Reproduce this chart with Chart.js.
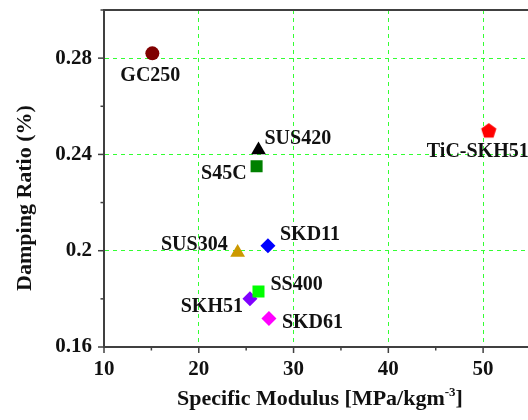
<!DOCTYPE html>
<html>
<head>
<meta charset="utf-8">
<script src="https://cdn.jsdelivr.net/npm/chart.js@4.4.1/dist/chart.umd.min.js"></script>
<style>
  html, body { margin: 0; padding: 0; background: #fff; }
  #clip { width: 528px; height: 420px; overflow: hidden; position: relative; }
  #wrap { width: 539px; height: 420px; position: absolute; left: 0; top: 0; }
</style>
</head>
<body>
<div id="clip"><div id="wrap"><canvas id="dampChart"></canvas></div></div>
<script>
// material data
const materials = ['GC250', 'SUS420', 'S45C', 'TiC-SKH51', 'SUS304', 'SKD11', 'SS400', 'SKH51', 'SKD61'];
const modulus   = [15.1, 26.3, 26.1, 50.6, 24.1, 27.3, 26.3, 25.4, 27.4];
const damping   = [0.282, 0.2418, 0.2351, 0.2501, 0.1993, 0.2021, 0.1831, 0.180, 0.1718];

const xTickLabels = [10, 20, 30, 40, 50];
const yTickLabels = ['0.16', '0.2', '0.24', '0.28'];

// marker look per material
const colors  = ['#800000', '#000000', '#008000', '#ff0000', '#cc9900', '#0000ff', '#00ff00', '#8000ff', '#ff00ff'];
const markers = ['circle', 'triangle', 'rect', 'pentagon', 'triangle', 'rectRot', 'rect', 'rectRot', 'rectRot'];
const radii   = [7, 8.5, 8.5, 8, 8.5, 7.5, 8.5, 7.5, 7.5];
// label placement: [dx, dy, align] relative to the marker
const labelPos = [
    [-2, 22, 'center'], [6, -11, 'left'], [-10, 8, 'right'], [-11, 22, 'center'], [-10, -8, 'right'],
    [12, -11, 'left'], [12, -7, 'left'], [-7, 8, 'right'], [13, 4, 'left']
];

const FONT = '"Liberation Serif", "Times New Roman", serif';
const AXIS = '#404040';

function makePentagon(r, color) {
    const c = document.createElement('canvas');
    c.width = c.height = Math.ceil(r * 2 + 2);
    const g = c.getContext('2d');
    const cx = c.width / 2, cy = c.height / 2 + 1;
    g.beginPath();
    for (let i = 0; i < 5; i++) {
        const a = -Math.PI / 2 + i * 2 * Math.PI / 5;
        const px = cx + r * Math.cos(a), py = cy + r * Math.sin(a);
        if (i === 0) g.moveTo(px, py); else g.lineTo(px, py);
    }
    g.closePath();
    g.fillStyle = color;
    g.fill();
    return c;
}

const datasets = materials.map((name, i) => ({
    label: name,
    data: [{ x: modulus[i], y: damping[i] }],
    pointStyle: markers[i] === 'pentagon' ? makePentagon(radii[i], colors[i]) : markers[i],
    pointRadius: radii[i],
    pointBackgroundColor: colors[i],
    pointBorderColor: colors[i],
    pointBorderWidth: 0,
    showLine: false
}));

const decorPlugin = {
    id: 'decor',
    afterDraw(chart) {
        const ctx = chart.ctx;
        const area = chart.chartArea;
        const xs = chart.scales.x, ys = chart.scales.y;
        ctx.save();
        // top frame
        ctx.strokeStyle = AXIS;
        ctx.lineWidth = 2;
        ctx.beginPath();
        ctx.moveTo(area.left - 1, area.top);
        ctx.lineTo(area.right + 1, area.top);
        ctx.stroke();
        // tick marks, outward
        ctx.lineWidth = 1.5;
        xs.ticks.forEach(t => {
            const px = xs.getPixelForValue(t.value);
            const len = xTickLabels.includes(Math.round(t.value)) ? 6 : 3.5;
            ctx.beginPath();
            ctx.moveTo(px, area.bottom);
            ctx.lineTo(px, area.bottom + len);
            ctx.stroke();
        });
        ys.ticks.forEach(t => {
            const py = ys.getPixelForValue(t.value);
            const len = Math.round(t.value * 100) % 4 === 0 ? 6 : 3.5;
            ctx.beginPath();
            ctx.moveTo(area.left, py);
            ctx.lineTo(area.left - len, py);
            ctx.stroke();
        });
        // axis titles
        ctx.fillStyle = '#111';
        ctx.font = 'bold 22px ' + FONT;
        ctx.textBaseline = 'alphabetic';
        const main = 'Specific Modulus [MPa/kgm';
        const sup = '-3';
        const tail = ']';
        const wMain = ctx.measureText(main).width;
        const wTail = ctx.measureText(tail).width;
        ctx.font = 'bold 13px ' + FONT;
        const wSup = ctx.measureText(sup).width;
        let tx = 320 - (wMain + wSup + wTail) / 2;
        const ty = 405;
        ctx.font = 'bold 22px ' + FONT;
        ctx.textAlign = 'left';
        ctx.fillText(main, tx, ty);
        ctx.font = 'bold 13px ' + FONT;
        ctx.fillText(sup, tx + wMain, ty - 9);
        ctx.font = 'bold 22px ' + FONT;
        ctx.fillText(tail, tx + wMain + wSup, ty);

        ctx.translate(25, 198);
        ctx.rotate(-Math.PI / 2);
        ctx.textAlign = 'center';
        ctx.textBaseline = 'middle';
        ctx.fillText('Damping Ratio (%)', 0, 0);
        ctx.restore();
    },
    afterDatasetsDraw(chart) {
        const ctx = chart.ctx;
        ctx.save();
        ctx.font = 'bold 20px ' + FONT;
        ctx.fillStyle = '#111';
        ctx.textBaseline = 'middle';
        chart.data.datasets.forEach((ds, i) => {
            const pt = chart.getDatasetMeta(i).data[0];
            const [dx, dy, align] = labelPos[i];
            ctx.textAlign = align;
            ctx.fillText(ds.label, pt.x + dx, pt.y + dy);
        });
        ctx.restore();
    }
};

const gridColor = '#33ff33';

new Chart(document.getElementById('dampChart'), {
    type: 'scatter',
    data: { datasets: datasets },
    options: {
        responsive: true,
        maintainAspectRatio: false,
        animation: false,
        layout: { padding: { left: 0, top: 10, right: 2, bottom: 0 } },
        plugins: {
            legend: { display: false },
            tooltip: { enabled: false }
        },
        scales: {
            x: {
                type: 'linear',
                min: 10,
                max: 55,
                afterFit: s => {
                    s.height = 73;
                    s.paddingLeft = 0; s.paddingRight = 0;
                },
                ticks: {
                    stepSize: 5,
                    padding: 10,
                    color: '#111',
                    font: { family: FONT, size: 21, weight: 'bold' },
                    maxRotation: 0,
                    autoSkip: false,
                    callback: v => xTickLabels.includes(v) ? String(v) : ''
                },
                grid: {
                    drawTicks: false,
                    lineWidth: 1,
                    color: c => (c.tick && xTickLabels.includes(c.tick.value) && c.tick.value !== 10) ? gridColor : 'rgba(0,0,0,0)'
                },
                border: { display: true, color: AXIS, width: 2, dash: [4, 4] }
            },
            y: {
                type: 'linear',
                min: 0.16,
                max: 0.30,
                afterFit: s => {
                    s.width = 104;
                    s.paddingTop = 0; s.paddingBottom = 0;
                },
                ticks: {
                    stepSize: 0.02,
                    padding: 12,
                    color: '#111',
                    font: { family: FONT, size: 21, weight: 'bold' },
                    autoSkip: false,
                    callback: v => {
                        const s = String(Number(v.toFixed(2)));
                        return yTickLabels.includes(s) ? s : '';
                    }
                },
                grid: {
                    drawTicks: false,
                    lineWidth: 1,
                    color: c => {
                        if (!c.tick) return 'rgba(0,0,0,0)';
                        const s = String(Number(c.tick.value.toFixed(2)));
                        return (yTickLabels.includes(s) && s !== '0.16') ? gridColor : 'rgba(0,0,0,0)';
                    }
                },
                border: { display: true, color: AXIS, width: 2, dash: [4, 4] }
            }
        }
    },
    plugins: [decorPlugin]
});
</script>
</body>
</html>
